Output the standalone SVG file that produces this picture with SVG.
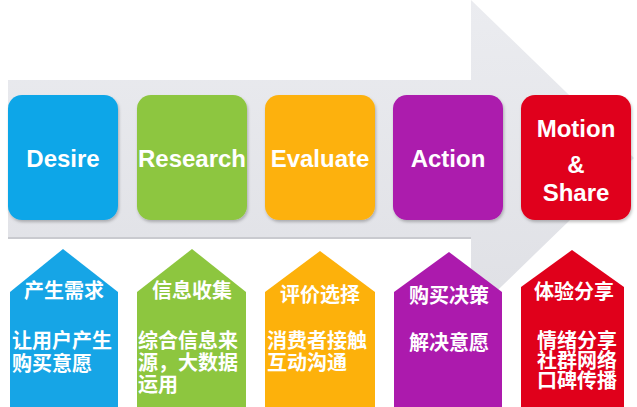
<svg xmlns="http://www.w3.org/2000/svg" width="637" height="407" viewBox="0 0 637 407">
<defs>
<linearGradient id="ag" x1="0" y1="0" x2="0" y2="1">
<stop offset="0" stop-color="#ebecf0"/>
<stop offset="1" stop-color="#dfe0e5"/>
</linearGradient>
<filter id="sh" x="-10%" y="-10%" width="125%" height="125%">
<feDropShadow dx="1" dy="2" stdDeviation="1.5" flood-color="#000" flood-opacity="0.25"/>
</filter>
</defs>
<style>
.en{font-family:"Liberation Sans",Arial,sans-serif;font-weight:bold;font-size:24px;fill:#fff;text-anchor:middle}
.cn{font-family:"Noto Sans CJK SC","Noto Sans",sans-serif;font-weight:bold;font-size:20px;fill:#fff}
.c{text-anchor:middle}
</style>
<rect width="637" height="407" fill="#fff"/>
<g id="arrow">
<path d="M8,80 H471 V0 L634,158 L471,316 V238 H8 Z" fill="url(#ag)"/>
<line x1="8" y1="238" x2="471" y2="238" stroke="#c9cacf" stroke-width="2"/>
</g>
<g id="desire"><rect x="8" y="95" width="110" height="125" rx="14" fill="#0aa6e8" filter="url(#sh)"/><text class="en" x="63" y="167">Desire</text></g>
<g id="research"><rect x="137" y="95" width="110" height="125" rx="14" fill="#8dc63f" filter="url(#sh)"/><text class="en" x="192" y="167">Research</text></g>
<g id="evaluate"><rect x="265" y="95" width="110" height="125" rx="14" fill="#fdb10b" filter="url(#sh)"/><text class="en" x="320" y="167">Evaluate</text></g>
<g id="action"><rect x="393" y="95" width="110" height="125" rx="14" fill="#ac1aad" filter="url(#sh)"/><text class="en" x="448" y="167">Action</text></g>
<g id="motion"><rect x="521" y="95" width="110" height="125" rx="14" fill="#e0001b" filter="url(#sh)"/><text class="en" x="576" y="137">Motion</text><text class="en" x="576" y="173">&amp;</text><text class="en" x="576" y="201">Share</text></g>
<g id="h1"><path d="M10,292 L63,249 L118,292 V407 H10 Z" fill="#16a5e6"/>
<text class="cn c" x="64" y="298">产生需求</text><text class="cn" x="12" y="348">让用户产生</text><text class="cn" x="12" y="371">购买意愿</text></g>
<g id="h2"><path d="M137,292 L192,249 L246,292 V407 H137 Z" fill="#8dc63f"/>
<text class="cn c" x="192" y="298">信息收集</text><text class="cn" x="138" y="348">综合信息来</text><text class="cn" x="138" y="370">源，大数据</text><text class="cn" x="138" y="392">运用</text></g>
<g id="h3"><path d="M265,292 L320,251 L375,292 V407 H265 Z" fill="#fdb10b"/>
<text class="cn c" x="320" y="302">评价选择</text><text class="cn" x="267" y="348">消费者接触</text><text class="cn" x="267" y="370">互动沟通</text></g>
<g id="h4"><path d="M394,292 L449,252 L502,292 V407 H394 Z" fill="#ac1aad"/>
<text class="cn c" x="449" y="303">购买决策</text><text class="cn c" x="449" y="350">解决意愿</text></g>
<g id="h5"><path d="M521,287 L572,250 L624,287 V407 H521 Z" fill="#e0001b"/>
<text class="cn c" x="574" y="299">体验分享</text><text class="cn c" x="577" y="348">情绪分享</text><text class="cn c" x="577" y="368">社群网络</text><text class="cn c" x="577" y="388">口碑传播</text></g>
</svg>
